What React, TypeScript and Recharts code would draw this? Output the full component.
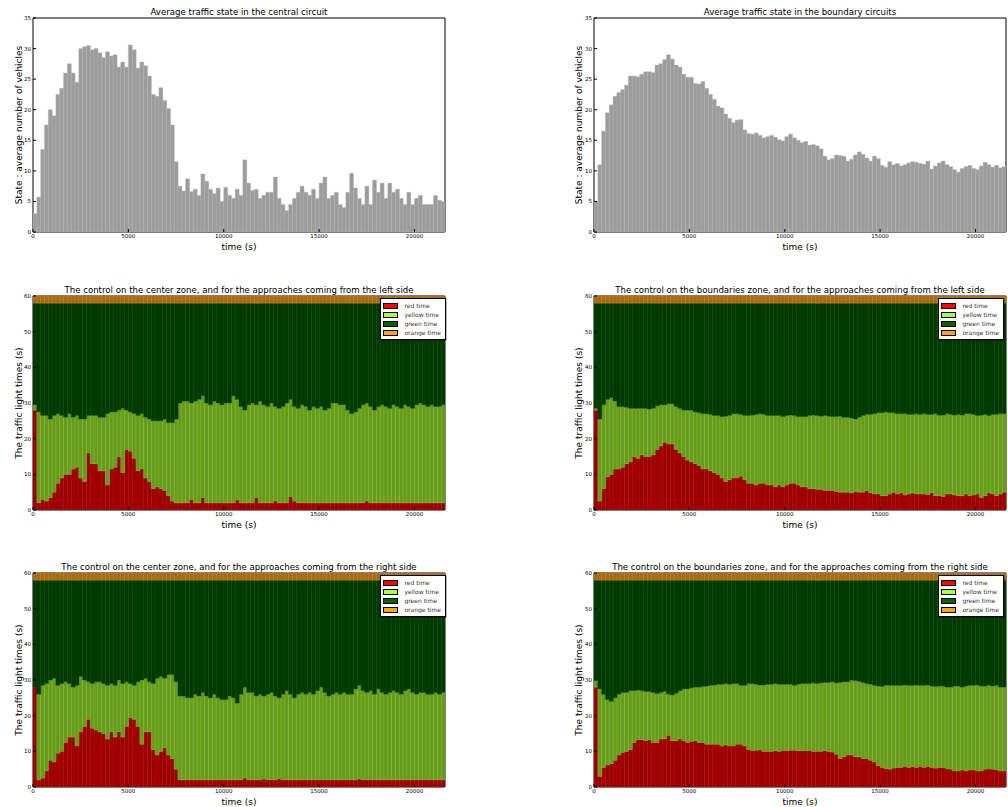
import React from 'react';
import { BarChart, Bar, XAxis, YAxis, ReferenceArea } from 'recharts';

// time bins of 200 s, value read at each bin centre
const BIN = 200;
const T_MAX = 21600;
const GREEN_END = 58;
const ORANGE_TIME = 2;
const times = Array.from({ length: 108 }, (_, i) => i * BIN + BIN / 2);

const xTicks = [0, 5000, 10000, 15000, 20000];
const stateTicks = [0, 5, 10, 15, 20, 25, 30, 35];
const lightTicks = [0, 10, 20, 30, 40, 50, 60];

const centralState = [
  3, 5.7, 13.5, 17.5, 20, 19, 22.5, 23.5, 26, 27.5,
  26, 24.5, 30, 30.3, 30.5, 29.8, 30, 29.3, 28.5, 29.5,
  28.8, 29, 27, 27.8, 27, 30.6, 29.8, 26.8, 27.8, 27.2,
  25.5, 22.5, 22.2, 23.6, 21.5, 20.2, 17.5, 11.5, 7.5, 6.7,
  8.7, 6.6, 7, 6, 9.5, 8.3, 7, 6.3, 7.2, 5,
  7.3, 6, 5.5, 7, 6, 11.8, 8, 6.8, 7, 5.5,
  6, 6.5, 6.5, 9, 5.5, 4.5, 3.5, 4.5, 5.5, 6.5,
  7.5, 6.5, 6, 7, 5.5, 8, 9, 5.5, 6, 6.5,
  4.5, 4, 6.5, 9.6, 7.2, 5.5, 4.5, 7.5, 4.5, 8.5,
  6.5, 8, 5.5, 8, 6.5, 7, 5.5, 4.5, 6.5, 4.5,
  5.5, 6, 4.5, 4.5, 4.5, 6, 5.2, 5,
];

const boundaryState = [
  5, 11, 16.5, 19.5, 20.8, 22.2, 22.8, 23.3, 24, 25.5,
  25.5, 25.4, 25.8, 26.2, 26.2, 26.1, 27.3, 27.5, 28.2, 29,
  28.3, 27.3, 27, 25.8, 25.3, 25.3, 24.3, 24.2, 24.6, 23.5,
  22.5, 21.7, 20.6, 20.3, 19.3, 18.6, 17.9, 18.3, 18.4, 16.7,
  16.1, 16, 16.2, 15.8, 15.4, 15.6, 15.8, 15.5, 15.1, 14.9,
  15.6, 16, 15.4, 15, 14.6, 14.8, 14.2, 14.3, 14.1, 13.6,
  12.4, 11.8, 12, 12.6, 12.5, 12.4, 11.6, 11.9, 12.6, 13.1,
  12.7, 12.1, 11.6, 12.4, 12, 10.9, 10.6, 11.5, 11, 11.2,
  10.8, 11, 11.3, 11.5, 11.4, 11.2, 11.1, 11.6, 10.3, 10.8,
  11.3, 11.6, 11, 10.7, 10.2, 9.8, 10.4, 10.7, 10.9, 10.4,
  10.2, 10.8, 11.4, 11, 10.6, 10.9, 10.5, 10.7,
];

// end of red phase and end of yellow phase (s), per bin
const centerLeftRed = [
  28, 2, 3, 2.5, 3.5, 5, 7.5, 9, 10, 10,
  11.5, 12, 9, 8, 16, 13, 13, 11, 11, 7,
  11.5, 12, 15, 10.5, 17, 16.5, 14.5, 11, 11.5, 9,
  8, 6, 6.5, 6, 5.5, 4, 2.5, 2, 2, 2,
  2, 3, 2, 2, 3.5, 2, 2, 2, 2, 2,
  2, 2, 2, 2.8, 2, 2, 2, 2, 3.5, 2,
  2, 2, 2, 2.5, 2, 2, 2, 3.8, 2.5, 2,
  2, 2, 2, 2, 2, 2, 2, 2, 2, 2,
  2, 2, 2, 2, 2, 2, 2, 2.5, 2, 2,
  2, 2, 2, 2, 2, 2, 2, 2, 2, 2,
  2, 2, 2, 2, 2, 2, 2, 2,
];
const centerLeftYellow = [
  29.5, 27.5, 26.5, 26.5, 25.5, 26.5, 27, 26.5, 26, 27,
  26, 26.5, 25.5, 25.5, 26.5, 26.5, 26.5, 26, 26, 27,
  27.5, 27.5, 28, 28.5, 28, 27.5, 27, 26.5, 27, 26,
  25.5, 25, 25, 25, 25.5, 24.5, 24.5, 25.5, 30, 30.5,
  30.5, 30, 30.5, 31, 32, 30, 29.5, 30.5, 30, 29.5,
  30, 30, 32, 31, 29, 28, 29.5, 30, 29.5, 30.5,
  29.5, 29, 30, 29, 28.5, 29, 30, 31, 29, 28.5,
  29.5, 29, 28, 29, 28.5, 29, 28, 28.5, 30, 30,
  29.5, 29.5, 28, 27, 27.5, 28.5, 29.5, 30, 29, 28,
  29, 29.5, 29, 28.5, 29.5, 29, 28.5, 29.5, 29, 28.5,
  29.5, 30, 29.5, 29, 29.5, 29, 29, 29.5,
];

const boundLeftRed = [
  28, 2.5, 6, 9.3, 10, 11.5, 11.5, 12, 13, 13.5,
  15, 14.5, 15.5, 15, 15, 15.5, 17, 18, 19, 18.5,
  18.5, 17, 16, 15, 14, 13.5, 13, 12.5, 11.5, 11.5,
  11, 10.5, 10, 9, 8, 8.5, 9, 9, 9.5, 8.5,
  7.5, 7.5, 7, 7.5, 7.5, 7, 7, 6.5, 7, 6.5,
  7, 7.5, 7.5, 7, 6.5, 6.5, 6, 6, 5.8, 5.8,
  5.5, 5.5, 5.5, 5.2, 5, 5, 5, 4.8, 5.2, 5,
  5, 5.5, 4.8, 4.5, 4.5, 4, 4, 4.5, 5, 4.5,
  4.8, 4.2, 4.5, 4.8, 4.5, 4.5, 4.5, 4.3, 4.8, 4,
  4, 3.8, 4.5, 4.5, 4.2, 4, 4, 4.5, 4, 4.2,
  4.5, 3.5, 4, 4.8, 4.5, 4, 4.5, 5,
];
const boundLeftYellow = [
  28.5, 25.5, 29.5, 31, 31.5, 30.5, 29, 29, 28.8, 28.5,
  28.5, 28.5, 28.5, 28.5, 28.3, 28.5, 29.2, 29.5, 29.5, 29.8,
  29.8, 29, 28.5, 28, 28, 28, 27.5, 27.3, 27, 27,
  26.8, 26.5, 26.5, 26.2, 26.3, 26.5, 27, 27, 26.8, 26.5,
  26.5, 26.6, 26.8, 27, 26.8, 26.5, 26.5, 26.5, 26.5, 26.2,
  26.5, 26.6, 26.5, 26.2, 26.2, 26.2, 26.5, 26.6, 26.5, 26.3,
  26.5, 26.3, 26.2, 26.2, 26.3, 26, 26, 25.8, 25.5, 26,
  26.5, 26.8, 26.8, 27, 27.3, 27.3, 27.5, 27.3, 27.3, 27,
  27, 27, 26.8, 26.8, 27, 26.8, 27, 26.8, 26.8, 27,
  26.6, 26.6, 27, 26.8, 26.6, 26.8, 26.6, 27, 27, 26.8,
  26.5, 26.6, 26.8, 26.5, 26.8, 26.8, 27, 27,
];

const centerRightRed = [
  28, 2, 2.5, 4.5, 7.5, 7, 9.5, 10, 12.5, 14,
  14, 11.5, 15.5, 17, 19, 16.5, 16, 15.5, 15, 13.5,
  15.5, 14, 15.5, 14, 17, 19.5, 19, 17, 12, 15.5,
  15.5, 10.5, 9, 10, 11, 9, 8, 5, 2, 2,
  2, 2, 2, 2, 2, 2, 2, 2, 2, 2,
  2, 2, 2, 2, 2, 2.5, 2, 2, 2, 2,
  2.3, 2, 2, 2, 2.4, 2, 2, 2, 2, 2,
  2, 2, 2, 2, 2, 2, 2, 2, 2, 2,
  2, 2, 2, 2, 2, 2.3, 2, 2, 2, 2,
  2, 2, 2, 2, 2, 2, 2, 2, 2, 2,
  2, 2, 2, 2, 2, 2, 2, 2,
];
const centerRightYellow = [
  28, 26, 28.5, 29, 30, 30.5, 28.5, 29, 29.5, 29,
  28, 28.5, 31, 30, 29.5, 29, 29.5, 29.5, 29, 28.5,
  29, 28.5, 30, 29, 29.5, 29, 28.5, 29.5, 30, 30.5,
  29.5, 29, 30.5, 31, 30.5, 31.5, 31.5, 29.5, 25.5, 25.5,
  25, 25, 26, 25.5, 26.5, 25.5, 25, 26, 25, 24.5,
  24.5, 25.5, 25, 23.5, 26, 28, 26.5, 26.5, 25.5, 26,
  25.5, 26, 26.5, 25.5, 25, 26, 27, 26, 25, 26,
  26.5, 26, 26.5, 26, 27, 28, 26.5, 25.5, 26, 26.5,
  26, 26.5, 26, 26, 27.5, 28.5, 27, 26.5, 27, 26,
  27.5, 26.5, 26, 26.5, 27, 26.5, 26, 27, 27.5, 26.5,
  26, 26.5, 26.5, 26, 26, 26.5, 26, 26.5,
];

const boundRightRed = [
  28, 3, 5.5, 6.2, 6.5, 7.5, 9, 9.7, 10, 10.5,
  12.5, 13.3, 13.3, 13, 13.3, 12.5, 12.5, 13.5, 13.5, 14.5,
  13, 13, 13.5, 13, 12.5, 12.8, 13, 12.5, 12.5, 12,
  12, 12, 12, 11.5, 11.8, 11.5, 11.5, 12, 12, 11.5,
  10.5, 10.3, 10.3, 10.5, 10, 10, 10, 10.2, 10, 10.3,
  10.2, 10.3, 10.3, 10.2, 10.2, 10.2, 10.3, 10, 10, 10,
  10.2, 10, 9.8, 9.2, 8, 8.5, 9, 9, 8.5, 8.5,
  8, 8, 7.5, 7, 6, 5.5, 5.2, 5, 5.3, 5.5,
  5.5, 5.8, 5.5, 5.8, 5.5, 5.8, 5.5, 5.8, 5.5, 5.3,
  5.5, 5.5, 5.2, 5, 4.5, 4.5, 4.8, 4.5, 4.8, 4.8,
  4.5, 4.5, 5, 5.2, 5, 4.8, 4.5, 4.5,
];
const boundRightYellow = [
  30, 27.5, 26, 24.5, 24, 25, 26, 26.5, 26.5, 27,
  27, 27.2, 27, 26.8, 26.8, 26.5, 26.2, 26.5, 26.8, 26,
  25.8, 26.3, 27, 27.5, 27.5, 27.8, 28, 28, 28.2, 28.3,
  28.5, 28.6, 28.8, 28.8, 29, 28.8, 29, 29, 28.5, 28.5,
  29, 29, 28.8, 28.6, 28.6, 28.8, 28.8, 29, 28.8, 28.8,
  28.8, 28.8, 28.5, 28.8, 29, 29, 29, 29.2, 29, 29.2,
  29.3, 29.3, 29.5, 29.2, 29.3, 29.5, 29.5, 30, 29.8, 29.6,
  29.3, 29, 28.8, 28.5, 28.3, 28.2, 28.5, 28.5, 28.5, 28.5,
  28.5, 28.6, 28.5, 28.5, 28.6, 28.5, 28.5, 28.6, 28.3, 28.2,
  28.3, 28.3, 28, 28, 28.3, 28.3, 28, 28.3, 28.5, 28.5,
  28.6, 28.3, 28.3, 28.5, 28.3, 28.5, 28, 28,
];

const legendItems = [
  { label: 'red time', color: '#ff0000' },
  { label: 'yellow time', color: '#adff2f' },
  { label: 'green time', color: '#006400' },
  { label: 'orange time', color: '#ffa500' },
];

const FONT = '"DejaVu Sans", sans-serif';
const tickStyle = { fontSize: 5.5, fill: '#000', fontFamily: FONT };
const labelStyle = { fontSize: 9, fill: '#000', fontFamily: FONT };

const CHART_H = 260;
const PANEL_TOPS = [0, 278, 555];
const COLS = [
  { left: 0, width: 450, yw: 33, mr: 5 },
  { left: 560, width: 448, yw: 34, mr: 2 },
];

type Col = typeof COLS[0];
type PanelProps = { col: number; row: number; title: string; children: (c: Col) => React.ReactNode };

const Panel = ({ col, row, title, children }: PanelProps) => {
  const c = COLS[col];
  return (
    <div style={{ position: 'absolute', left: c.left, top: PANEL_TOPS[row], width: c.width, height: CHART_H }}>
      <div
        style={{
          position: 'absolute',
          left: c.yw,
          width: c.width - c.yw - c.mr,
          top: 7,
          textAlign: 'center',
          fontFamily: FONT,
          fontSize: 8.6,
          lineHeight: '11px',
          whiteSpace: 'nowrap',
        }}
      >
        {title}
      </div>
      {children(c)}
    </div>
  );
};

const axes = (c: Col, yTicks: number[], yMax: number, yLabel: string) => [
  <XAxis
    key="x"
    dataKey="t"
    type="number"
    domain={[0, T_MAX]}
    ticks={xTicks}
    height={24}
    tick={tickStyle}
    tickSize={-3}
    tickMargin={5}
    axisLine={false}
    tickLine={{ stroke: '#000' }}
    allowDataOverflow
    label={{ value: 'time (s)', position: 'insideBottom', offset: 6, style: labelStyle }}
  />,
  <YAxis
    key="y"
    type="number"
    domain={[0, yMax]}
    ticks={yTicks}
    width={c.yw}
    tick={tickStyle}
    tickSize={-3}
    tickMargin={5}
    axisLine={false}
    tickLine={{ stroke: '#000' }}
    allowDataOverflow
    label={{ value: yLabel, angle: -90, position: 'center', dx: 2, style: { ...labelStyle, textAnchor: 'middle' } }}
  />,
  <ReferenceArea key="box" x1={0} x2={T_MAX} y1={0} y2={yMax} fill="none" fillOpacity={0} stroke="#000" strokeWidth={1} />,
];

const StatePanel = ({ col, title, values }: { col: number; title: string; values: number[] }) => {
  const data = times.map((t, i) => ({ t, v: values[i] }));
  return (
    <Panel col={col} row={0} title={title}>
      {(c) => (
        <BarChart
          width={c.width}
          height={CHART_H}
          data={data}
          margin={{ top: 18, right: c.mr, bottom: 4, left: 0 }}
          barCategoryGap={0}
          barGap={0}
        >
          <Bar dataKey="v" fill="#9c9c9c" stroke="#b8b8b8" strokeWidth={0.4} isAnimationActive={false} />
          {axes(c, stateTicks, 35, 'State : average number of vehicles')}
        </BarChart>
      )}
    </Panel>
  );
};

const LegendBox = () => (
  <div
    style={{
      position: 'absolute',
      right: 4,
      top: 20,
      background: '#fff',
      border: '1px solid #000',
      padding: '2px 4px 2px 2px',
      fontFamily: FONT,
      fontSize: 6,
      lineHeight: '9px',
      boxShadow: '1px 1px 0 rgba(0,0,0,0.25)',
    }}
  >
    {legendItems.map((it) => (
      <div key={it.label} style={{ display: 'flex', alignItems: 'center', whiteSpace: 'nowrap' }}>
        <span
          style={{
            display: 'inline-block',
            width: 13,
            height: 4,
            background: it.color,
            border: '0.5px solid #000',
            marginRight: 6,
          }}
        />
        <span style={{ color: '#333' }}>{it.label}</span>
      </div>
    ))}
  </div>
);

const ControlPanel = ({
  col,
  row,
  title,
  red,
  yellowEnd,
}: {
  col: number;
  row: number;
  title: string;
  red: number[];
  yellowEnd: number[];
}) => {
  const data = times.map((t, i) => {
    const top = Math.max(yellowEnd[i], red[i]);
    return { t, red: red[i], yellow: top - red[i], green: GREEN_END - top, orange: ORANGE_TIME };
  });
  return (
    <Panel col={col} row={row} title={title}>
      {(c) => (
        <>
          <BarChart
            width={c.width}
            height={CHART_H}
            data={data}
            margin={{ top: 18, right: c.mr, bottom: 4, left: 0 }}
            barCategoryGap={0}
            barGap={0}
          >
            <Bar dataKey="red" stackId="s" fill="#9a0000" stroke="#c80000" strokeWidth={0.4} isAnimationActive={false} />
            <Bar dataKey="yellow" stackId="s" fill="#679a1e" stroke="#86c82c" strokeWidth={0.4} isAnimationActive={false} />
            <Bar dataKey="green" stackId="s" fill="#003a00" stroke="#004a00" strokeWidth={0.4} isAnimationActive={false} />
            <Bar dataKey="orange" stackId="s" fill="#a66a10" stroke="#cc8418" strokeWidth={0.4} isAnimationActive={false} />
            {axes(c, lightTicks, 60, 'The traffic light times (s)')}
          </BarChart>
          <LegendBox />
        </>
      )}
    </Panel>
  );
};

export default function App() {
  return (
    <div style={{ position: 'absolute', left: 0, top: 0, width: 1008, height: 807, overflow: 'hidden', background: '#fff' }}>
      <StatePanel col={0} title="Average traffic state in the central circuit" values={centralState} />
      <StatePanel col={1} title="Average traffic state in the boundary circuits" values={boundaryState} />
      <ControlPanel
        col={0}
        row={1}
        title="The control on the center zone, and for the approaches coming from the left side"
        red={centerLeftRed}
        yellowEnd={centerLeftYellow}
      />
      <ControlPanel
        col={1}
        row={1}
        title="The control on the boundaries zone, and for the approaches coming from the left side"
        red={boundLeftRed}
        yellowEnd={boundLeftYellow}
      />
      <ControlPanel
        col={0}
        row={2}
        title="The control on the center zone, and for the approaches coming from the right side"
        red={centerRightRed}
        yellowEnd={centerRightYellow}
      />
      <ControlPanel
        col={1}
        row={2}
        title="The control on the boundaries zone, and for the approaches coming from the right side"
        red={boundRightRed}
        yellowEnd={boundRightYellow}
      />
    </div>
  );
}
